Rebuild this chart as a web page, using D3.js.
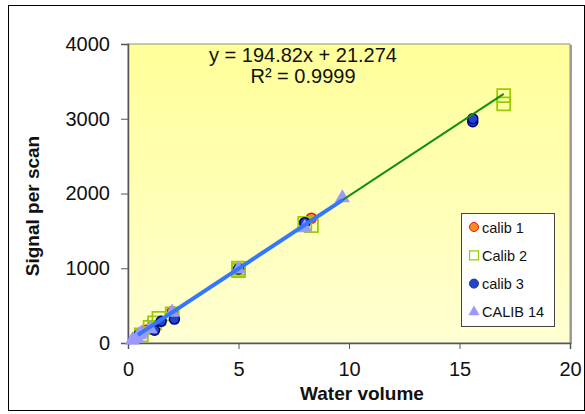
<!DOCTYPE html>
<html>
<head>
<meta charset="utf-8">
<script src="https://cdn.jsdelivr.net/npm/d3@7"></script>
<style>
  body { margin: 0; background: #fff; }
  text { font-family: "Liberation Sans", Arial, sans-serif; }
</style>
</head>
<body>
<div id="chart"></div>
<script>
// series values [water volume, signal per scan]
const calib1 = [[0.8, 170], [1.1, 230], [2, 420], [8, 1610], [8.3, 1670]];
const calib2 = [[0.6, 110], [1, 210], [1.4, 330], [1.2, 270], [2, 390], [5, 970], [5, 1000],
                [8, 1600], [8.3, 1570], [17, 3200], [17, 3310]];
const calib3 = [[0.5, 110], [1.2, 170], [1.5, 290], [2.1, 320], [5, 990], [8, 1610], [15.6, 2960], [15.6, 3000]];
const calib14 = [[0.2, 40], [0.4, 70], [0.5, 110], [0.6, 130], [1, 190], [2, 410], [5, 990], [8, 1540], [9.7, 1940]];
const seriesNames = ["calib 1", "Calib 2", "calib 3", "CALIB 14"];
const xTicks = [0, 5, 10, 15, 20];
const yTicks = [0, 1000, 2000, 3000, 4000];
const slope = 194.82, intercept = 21.274;
const eqLabel = "y = 194.82x + 21.274";
const r2Label = "R² = 0.9999";

const width = 585, height = 414;
const margin = { left: 128, top: 44, right: 15, bottom: 71 };

const svg = d3.select("#chart").append("svg")
  .attr("width", width)
  .attr("height", height);

// outer frame
svg.append("rect")
  .attr("x", 8.5).attr("y", 5.5)
  .attr("width", 576).attr("height", 405)
  .attr("fill", "#fff")
  .attr("stroke", "#000");

const x = d3.scaleLinear().domain([0, 20]).range([margin.left, width - margin.right]);
const y = d3.scaleLinear().domain([0, 4000]).range([height - margin.bottom, margin.top]);

const defs = svg.append("defs");
const grad = defs.append("linearGradient")
  .attr("id", "bg").attr("x1", 0).attr("y1", 0).attr("x2", 0).attr("y2", 1);
grad.append("stop").attr("offset", "0%").attr("stop-color", "#ffff99");
grad.append("stop").attr("offset", "100%").attr("stop-color", "#ffffd2");

// plot area with a small shadow on the right
svg.append("rect")
  .attr("x", x(0) + 2).attr("y", y(4000) + 1)
  .attr("width", x(20) - x(0)).attr("height", y(0) - y(4000))
  .attr("fill", "#a0a0a0");
svg.append("rect")
  .attr("x", x(0)).attr("y", y(4000))
  .attr("width", x(20) - x(0)).attr("height", y(0) - y(4000))
  .attr("fill", "url(#bg)")
  .attr("stroke", "#909090");

// axes
const xAxis = svg.append("g")
  .attr("transform", `translate(0,${y(0)})`)
  .call(d3.axisBottom(x).tickValues(xTicks).tickSize(6).tickPadding(13));
const yAxis = svg.append("g")
  .attr("transform", `translate(${x(0)},0)`)
  .call(d3.axisLeft(y).tickValues(yTicks).tickFormat(d3.format("d")).tickSize(7).tickPadding(11));
[xAxis, yAxis].forEach(g => {
  g.select(".domain").attr("stroke", "#555").attr("stroke-width", 1.5);
  g.selectAll(".tick line").attr("stroke", "#555");
  g.selectAll(".tick text").attr("font-size", 20).attr("fill", "#111")
    .attr("font-family", "Liberation Sans, Arial, sans-serif");
});

// markers
const sym = (type, size) => d3.symbol().type(type).size(size)();

svg.append("g").selectAll("circle")
  .data(calib1).join("circle")
  .attr("cx", d => x(d[0])).attr("cy", d => y(d[1])).attr("r", 5)
  .attr("fill", "#ff8c1a").attr("stroke", "#ee1111").attr("stroke-width", 1.5);

svg.append("g").selectAll("path")
  .data(calib2).join("path")
  .attr("transform", d => `translate(${x(d[0])},${y(d[1])})`)
  .attr("d", sym(d3.symbolSquare, 169))
  .attr("fill", "none").attr("stroke", "#99cc00").attr("stroke-width", 1.8);

svg.append("g").selectAll("circle")
  .data(calib3).join("circle")
  .attr("cx", d => x(d[0])).attr("cy", d => y(d[1])).attr("r", 5)
  .attr("fill", "#2244cc").attr("stroke", "#000080").attr("stroke-width", 1.5);

svg.append("g").selectAll("path")
  .data(calib14).join("path")
  .attr("transform", d => `translate(${x(d[0])},${y(d[1])})`)
  .attr("d", sym(d3.symbolTriangle, 100))
  .attr("fill", "#9999ff");

// trend lines
const line = d3.line().x(d => x(d)).y(d => y(slope * d + intercept));
svg.append("path")
  .attr("d", line(d3.extent(calib2, d => d[0])))
  .attr("fill", "none").attr("stroke", "#109010").attr("stroke-width", 2);
svg.append("path")
  .attr("d", line([0.45, d3.max(calib14, d => d[0])]))
  .attr("fill", "none").attr("stroke", "#3377ff").attr("stroke-width", 4);

// equation
svg.append("text").attr("x", 303).attr("y", 62).attr("text-anchor", "middle")
  .attr("font-size", 20).attr("fill", "#111").text(eqLabel);
svg.append("text").attr("x", 303).attr("y", 83).attr("text-anchor", "middle")
  .attr("font-size", 20).attr("fill", "#111").text(r2Label);

// axis titles
svg.append("text").attr("x", 362).attr("y", 400).attr("text-anchor", "middle")
  .attr("font-size", 19).attr("font-weight", "bold").attr("fill", "#111").text("Water volume");
svg.append("text")
  .attr("transform", "translate(39,206) rotate(-90)")
  .attr("text-anchor", "middle")
  .attr("font-size", 19).attr("font-weight", "bold").attr("fill", "#111").text("Signal per scan");

// legend
const lg = svg.append("g").attr("transform", "translate(461,213)");
lg.append("rect").attr("x", 0.5).attr("y", 0.5).attr("width", 93).attr("height", 113)
  .attr("fill", "#fff").attr("stroke", "#444");
const items = lg.selectAll("g.item").data(seriesNames).join("g")
  .attr("transform", (d, i) => `translate(13,${14 + i * 28.3})`);
items.each(function (d, i) {
  const g = d3.select(this);
  if (i === 0) g.append("circle").attr("r", 4.5).attr("fill", "#ff8c1a").attr("stroke", "#ee1111");
  if (i === 1) g.append("path").attr("d", sym(d3.symbolSquare, 81)).attr("fill", "none").attr("stroke", "#99cc00").attr("stroke-width", 1.2);
  if (i === 2) g.append("circle").attr("r", 4.5).attr("fill", "#2244cc").attr("stroke", "#1a3399");
  if (i === 3) g.append("path").attr("d", sym(d3.symbolTriangle, 55)).attr("fill", "#9999ff");
});
items.append("text").attr("x", 8).attr("y", 5.5).attr("font-size", 14.5).attr("fill", "#111").text(d => d);
</script>
</body>
</html>
